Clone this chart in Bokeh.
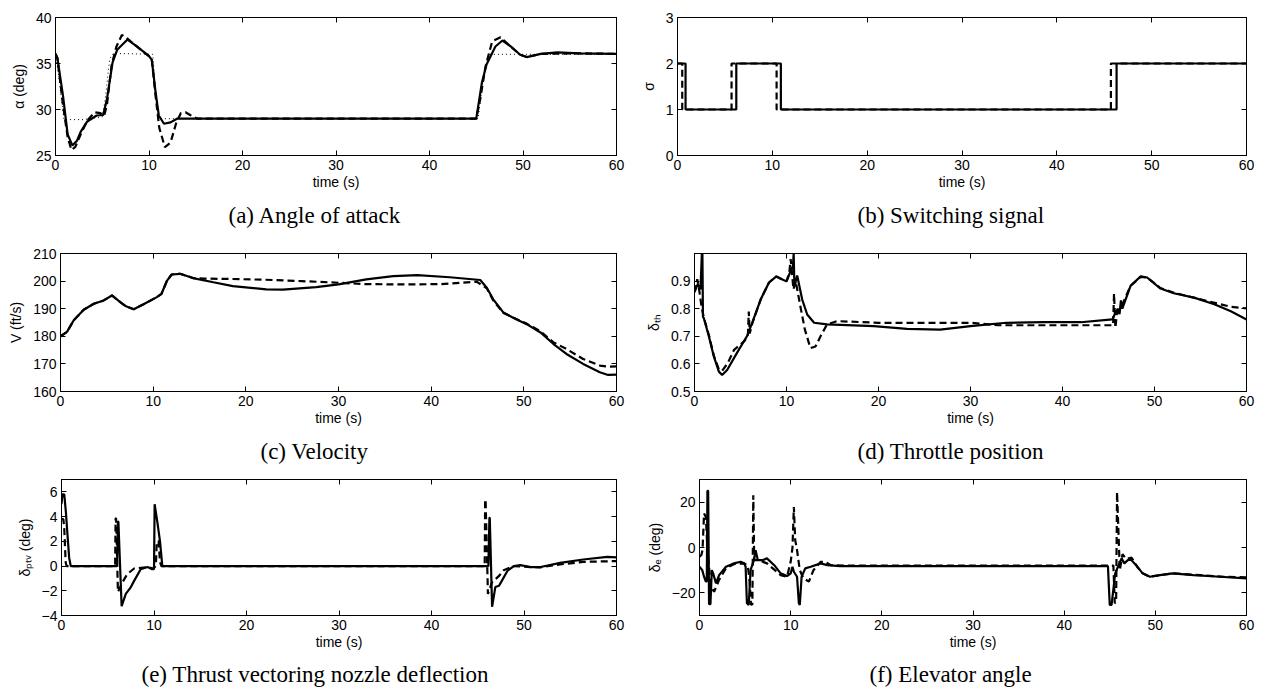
from bokeh.plotting import figure
from bokeh.models import LinearAxis, FixedTicker, Range1d, Title
from bokeh.layouts import column, row
from bokeh.embed import file_html
from bokeh.resources import INLINE

# ---------------- data ----------------
x_ticks = [0, 10, 20, 30, 40, 50, 60]

# (a) angle of attack
a_solid_t = [0, 0.2, 0.8, 1.3, 1.8, 2.3, 2.7, 3.4, 4.4, 5.1, 5.5, 6.1, 6.6, 7.7, 8.7, 10.0, 10.3, 10.7, 11.05,
             11.6, 12.3, 13.0, 14, 20, 30, 40, 45.0, 45.6, 46.1, 47.05, 47.8, 48.7, 49.7, 50.4, 51.9, 53.7, 56, 60]
a_solid_v = [36.1, 35.6, 31.5, 27.3, 26.1, 26.6, 27.6, 28.7, 29.35, 29.4, 31.1, 35.1, 36.5, 37.6, 36.85, 35.8, 35.4,
             31.9, 29.35, 28.45, 28.6, 29.0, 29.0, 29.0, 29.0, 29.0, 29.0, 32.9, 34.9, 36.85, 37.5, 36.85, 35.95, 35.7,
             36.05, 36.2, 36.1, 36.05]
a_dash_t = [0, 0.2, 0.8, 1.3, 1.7, 2.1, 2.7, 3.4, 4.2, 4.8, 5.2, 5.5, 6.0, 6.5, 7.1, 7.6, 8.5, 10.0, 10.3, 10.7,
            11.1, 11.7, 12.3, 12.9, 13.4, 13.9, 14.4, 15.2, 20, 45.0, 45.4, 46.0, 46.7, 47.6, 48.5, 49.7, 50.4, 52,
            56, 60]
a_dash_v = [36, 35.6, 30.5, 27.0, 25.6, 25.9, 27.3, 28.8, 29.7, 29.6, 29.3, 30.5, 34.8, 36.8, 38.1, 37.8, 37.0, 35.8,
            35.4, 31.5, 28.0, 25.9, 26.4, 28.5, 29.6, 29.7, 29.4, 29.0, 29.0, 29.0, 31.0, 34.7, 37.4, 37.85, 37.0,
            35.95, 35.7, 36.05, 36.1, 36.05]
a_ref_t = [0, 0.3, 0.9, 3, 5.0, 5.3, 5.8, 6.2, 10.4, 10.7, 11.0, 45.2, 45.7, 46.3, 60]
a_ref_v = [36, 34, 28.9, 28.9, 29.2, 31, 35.5, 36.1, 36.0, 32, 29.0, 29.0, 33, 36.0, 36.0]

# (b) switching signal
b_solid_t = [0, 0.85, 0.85, 6.2, 6.2, 10.9, 10.9, 46.3, 46.3, 60]
b_solid_v = [2, 2, 1, 1, 2, 2, 1, 1, 2, 2]
b_dash_t = [0, 0.5, 0.5, 5.7, 5.7, 10.45, 10.45, 45.7, 45.7, 60]
b_dash_v = [2, 2, 1, 1, 2, 2, 1, 1, 2, 2]

# (c) velocity
c_solid_t = [0, 0.7, 1.43, 2.5, 3.6, 4.66, 5.55, 6.45, 7.0, 7.9, 8.96, 10.4, 10.9, 11.5, 12.0, 12.9, 14.3, 16.5,
             18.6, 22.2, 24, 27.6, 30, 33, 35.9, 38.5, 42, 45.3, 46, 46.7, 47.8, 48.9, 50.3, 51.8, 53.2, 54.6, 56.4,
             58.2, 59.1, 60]
c_solid_v = [180, 181.6, 185.8, 189.6, 191.8, 193, 194.8, 192.4, 191.0, 189.8, 191.6, 194.2, 195.4, 200.2, 202.4,
             202.65, 201.1, 199.6, 198.2, 197, 196.9, 197.8, 198.8, 200.6, 201.8, 202.2, 201.4, 200.4, 197.6, 193.4,
             188.6, 186.6, 184.4, 181.4, 177.2, 173.6, 170.0, 167.0, 166.0, 166.1]
c_dash_t = [0, 0.7, 1.43, 2.5, 3.6, 4.66, 5.55, 6.45, 7.0, 7.9, 8.96, 10.4, 10.9, 11.5, 12.0, 12.9, 14.3, 15.5, 18,
            22, 26, 30, 33, 37, 41, 44.9, 46, 46.7, 47.8, 48.9, 50.3, 51.8, 53.2, 54.6, 56.4, 58.2, 59.2, 60]
c_dash_v = [180, 181.6, 185.8, 189.6, 191.8, 193, 194.8, 192.4, 191.0, 189.8, 191.6, 194.2, 195.4, 200.2, 202.4,
            202.65, 201.1, 200.9, 200.8, 200.5, 200.0, 199.4, 198.9, 198.8, 198.9, 199.8, 197.4, 193.0, 188.4, 186.7,
            184.6, 181.8, 177.8, 175.4, 171.8, 169.4, 169.0, 169.1]

# (d) throttle position
d_solid_t = [0, 0.36, 0.65, 0.8, 0.86, 0.92, 1.0, 1.56, 2.1, 2.65, 3.0, 3.55, 4.6, 5.7, 6.27, 7.2, 8.1, 8.9, 9.5,
             10.0, 10.4, 10.7, 10.78, 10.86, 11.16, 11.7, 12.25, 13.0, 14.4, 19.5, 23.1, 26.7, 30, 33.9, 38, 42,
             45.4, 46.0, 46.2, 46.35, 46.5, 47.4, 48.5, 49.2, 50.65, 52.1, 54.3, 56.5, 58.3, 60]
d_solid_v = [0.86, 0.889, 0.87, 1.0, 1.0, 0.77, 0.767, 0.70, 0.627, 0.572, 0.56, 0.578, 0.639, 0.70, 0.749, 0.834,
             0.895, 0.917, 0.907, 0.899, 0.932, 0.956, 1.0, 0.88, 0.92, 0.834, 0.779, 0.749, 0.743, 0.737, 0.727,
             0.724, 0.737, 0.749, 0.751, 0.751, 0.761, 0.80, 0.78, 0.83, 0.80, 0.883, 0.917, 0.913, 0.873, 0.856,
             0.840, 0.816, 0.791, 0.761]
d_dash_t = [0, 0.3, 0.5, 0.8, 1.0, 1.6, 2.1, 2.65, 3.0, 3.6, 4.3, 5.4, 5.8, 5.9, 6.0, 6.3, 7.2, 8.1, 8.9, 9.5, 10.0,
            10.3, 10.45, 10.6, 10.75, 11.0, 11.5, 12.0, 12.6, 13.15, 13.7, 14.4, 15.5, 20, 30, 33, 40, 45.5, 45.6,
            45.75, 45.9, 46.3, 47.4, 48.5, 49.2, 50.65, 52.1, 55.7, 58.3, 60]
d_dash_v = [0.86, 0.907, 0.87, 0.80, 0.77, 0.70, 0.63, 0.58, 0.575, 0.602, 0.651, 0.682, 0.70, 0.79, 0.71, 0.749,
            0.834, 0.895, 0.917, 0.907, 0.899, 0.93, 0.98, 0.93, 0.87, 0.90, 0.81, 0.724, 0.657, 0.663, 0.70, 0.743,
            0.755, 0.749, 0.749, 0.740, 0.740, 0.740, 0.855, 0.73, 0.78, 0.80, 0.883, 0.915, 0.913, 0.875, 0.858,
            0.828, 0.807, 0.801]

# (e) thrust vectoring nozzle deflection
e_solid_t = [0, 0.1, 0.3, 0.47, 0.65, 0.83, 1.0, 6.0, 6.1, 6.15, 6.5, 6.95, 7.5, 7.85, 8.56, 9.3, 9.8, 10.0, 10.07,
             10.36, 10.65, 10.9, 46.15, 46.26, 46.3, 46.55, 46.9, 47.3, 47.6, 48.2, 48.9, 49.6, 50.7, 51.8, 53.9,
             56.4, 59, 60]
e_solid_v = [5.0, 5.8, 5.8, 4.4, 2.5, 0.66, 0, 0, 3.6, 3.6, -3.25, -2.25, -1.7, -1.2, -0.26, -0.08, -0.26, -0.26,
             5.0, 3.57, 2.0, 0, 0, 3.9, 3.9, -3.3, -1.7, -1.6, -1.2, -0.4, 0, 0.08, -0.08, -0.08, 0.26, 0.53, 0.74,
             0.7]
e_dash_t = [0, 0.2, 0.3, 0.45, 0.55, 5.8, 5.85, 5.9, 6.1, 6.6, 7.1, 7.85, 9.3, 9.9, 10.2, 10.3, 10.5, 10.65, 10.8,
            45.75, 45.8, 45.85, 46.1, 46.55, 47.3, 47.8, 48.9, 50.7, 51.8, 53.9, 56.4, 60]
e_dash_v = [3.8, 3.8, 3.0, 0.3, 0, 0, 3.85, 3.85, -2.1, -1.3, -0.66, -0.2, -0.08, -0.2, 0, 2.0, 2.0, 0.3, 0, 0, 5.4,
            5.3, -2.25, -1.3, -0.8, -0.34, 0, -0.08, -0.1, 0.13, 0.34, 0.4]

# (f) elevator angle
f_solid_t = [0, 0.3, 0.5, 0.7, 0.8, 0.87, 0.95, 1.05, 1.2, 1.35, 1.5, 1.8, 2.15, 2.9, 3.8, 4.5, 4.9, 5.06, 5.2,
             5.4, 5.6, 5.97, 6.15, 6.4, 6.9, 7.4, 8.2, 8.9, 9.6, 10.0, 10.2, 10.35, 10.7, 10.9, 11.0, 11.2, 11.6,
             12.2, 13.3, 14.0, 15.4, 30, 44.8, 45.0, 45.2, 45.6, 45.9, 46.3, 46.6, 47.2, 47.9, 48.6, 49.4, 50.5,
             51.9, 54.2, 57.1, 60]
f_solid_v = [-8.5, -10, -12.9, -15, -15, 25, 25, -25, -25, -10, -11.4, -15.8, -12.2, -8.5, -7, -6.3, -7.0, -8.5,
             -24.6, -25.3, -10, -5.6, -1.2, -5.6, -5.6, -4.8, -7.8, -11.4, -12.6, -11.4, -8.5, -10.7, -12.9, -24.6,
             -25.3, -12.9, -9.2, -8.5, -7, -7.8, -8.2, -8.2, -8.2, -25.3, -25.3, -11.4, -8.5, -4.8, -7, -4.8, -7.8,
             -11.4, -12.9, -12.2, -11.4, -12.2, -12.9, -13.6]
f_dash_t = [0, 0.2, 0.33, 0.5, 0.7, 0.87, 1.25, 1.6, 2.15, 2.9, 3.8, 4.9, 5.3, 5.5, 5.65, 5.8, 5.9, 6.0, 6.5, 7.4,
            8.9, 9.6, 10.0, 10.2, 10.35, 10.5, 10.7, 11.0, 11.4, 12.0, 12.5, 13.3, 13.8, 14.4, 16, 45.4, 45.55,
            45.7, 45.8, 45.95, 46.1, 46.4, 46.8, 47.4, 48.0, 48.6, 49.4, 50.5, 52, 55, 57.5, 60]
f_dash_v = [-4, -3.4, -1.2, 15, 13.5, -1.2, -17.3, -19.5, -14.3, -9.2, -7.3, -7.0, -8, -15, -25.3, -25, 23, -5.6,
            -5.6, -7, -12.2, -12.9, -6.3, 0, 17.9, 3.2, -1.2, -10, -13.6, -15, -10, -6.3, -6.3, -7.8, -8.0, -8.0,
            -24.6, -24, 24.5, 7.6, -10, -3, -5, -4.5, -8.5, -11.4, -12.9, -12.2, -11.4, -12.2, -12.9, -13.2]

# ---------------- styling ----------------
SANS = "Liberation Sans"
SERIF = "Liberation Serif"
TICK_FS = "14px"
LABEL_FS = "14px"
CAP_FS = "23px"


def style_axis(ax, show_labels=True):
    ax.major_tick_in = 5
    ax.major_tick_out = 0
    ax.minor_tick_line_color = None
    ax.axis_line_color = "black"
    ax.major_tick_line_color = "black"
    ax.major_label_text_font = SANS
    ax.axis_label_text_font = SANS
    ax.axis_label_text_font_size = LABEL_FS
    ax.axis_label_text_font_style = "normal"
    ax.axis_label_text_color = "black"
    if show_labels:
        ax.major_label_text_color = "black"
        ax.major_label_text_font_size = TICK_FS
        ax.major_label_standoff = 4
    else:
        # tick marks only (box ticks on top / right), labels not drawn
        ax.major_label_text_color = None
        ax.major_label_text_font_size = "1px"
        ax.major_label_standoff = 0
        ax.axis_label = None


def make_panel(width, height, left, right, top, bottom, yr, yticks, ylabel, caption, cap_offset, cap_standoff):
    p = figure(width=width, height=height, x_range=Range1d(0, 60), y_range=Range1d(*yr),
               output_backend="svg", toolbar_location=None,
               min_border_left=left, min_border_right=right, min_border_top=top, min_border_bottom=bottom,
               outline_line_color="black", outline_line_width=1)
    p.grid.visible = False
    xa = p.xaxis[0]
    ya = p.yaxis[0]
    xa.ticker = FixedTicker(ticks=x_ticks)
    ya.ticker = FixedTicker(ticks=yticks)
    style_axis(xa)
    style_axis(ya)
    xa.axis_label = "time (s)"
    xa.axis_label_standoff = 1
    ya.axis_label = ylabel
    ya.axis_label_standoff = 6
    top_ax = LinearAxis(ticker=FixedTicker(ticks=x_ticks))
    right_ax = LinearAxis(ticker=FixedTicker(ticks=yticks))
    style_axis(top_ax, False)
    style_axis(right_ax, False)
    p.add_layout(top_ax, "above")
    p.add_layout(right_ax, "right")
    p.add_layout(Title(text=caption, align="left", offset=cap_offset, text_font=SERIF,
                       text_font_size=CAP_FS, text_font_style="normal", text_color="black",
                       standoff=cap_standoff), "below")
    return p


def draw(p, t, v, kind):
    if kind == "solid":
        p.line(t, v, line_color="black", line_width=2.2)
    elif kind == "dash":
        p.line(t, v, line_color="black", line_width=2.2, line_dash="7 4")
    else:
        p.line(t, v, line_color="black", line_width=1, line_dash="1 3")


# row 1: 0..240  (frames 17..157 / 15..155)
pa = make_panel(630, 240, 55, 14, 17, 83, (25, 40), [25, 30, 35, 40], "\u03b1 (deg)",
                "(a) Angle of attack", 173, 17)
draw(pa, a_ref_t, a_ref_v, "dot")
draw(pa, a_dash_t, a_dash_v, "dash")
draw(pa, a_solid_t, a_solid_v, "solid")

pb = make_panel(635, 240, 47, 19, 15, 85, (0, 3), [0, 1, 2, 3], "\u03c3",
                "(b) Switching signal", 180, 17)
draw(pb, b_dash_t, b_dash_v, "dash")
draw(pb, b_solid_t, b_solid_v, "solid")

# row 2: 240..474  (frames 253..391)
pc = make_panel(630, 234, 60, 14, 13, 83, (160, 210), [160, 170, 180, 190, 200, 210], "V (ft/s)",
                "(c) Velocity", 200, 17)
draw(pc, c_dash_t, c_dash_v, "dash")
draw(pc, c_solid_t, c_solid_v, "solid")

pd = make_panel(635, 234, 64, 19, 13, 83, (0.5, 1.0), [0.5, 0.6, 0.7, 0.8, 0.9], "\u03b4\u209c\u2095",
                "(d) Throttle position", 163, 17)
draw(pd, d_dash_t, d_dash_v, "dash")
draw(pd, d_solid_t, d_solid_v, "solid")

# row 3: 474..696  (frames 476..615 / 479..615)
pe = make_panel(630, 222, 61, 14, 2, 81, (-4, 7), [-4, -2, 0, 2, 4, 6], "\u03b4\u209a\u209c\u1d65 (deg)",
                "(e) Thrust vectoring nozzle deflection", 80, 15)
draw(pe, e_dash_t, e_dash_v, "dash")
draw(pe, e_solid_t, e_solid_v, "solid")

pf = make_panel(635, 222, 69, 19, 5, 81, (-30, 30), [-20, 0, 20], "\u03b4\u2091 (deg)",
                "(f) Elevator angle", 170, 15)
draw(pf, f_dash_t, f_dash_v, "dash")
draw(pf, f_solid_t, f_solid_v, "solid")

layout = column(row(pa, pb), row(pc, pd), row(pe, pf))

with open("out.html", "w") as fh:
    fh.write(file_html(layout, INLINE))
